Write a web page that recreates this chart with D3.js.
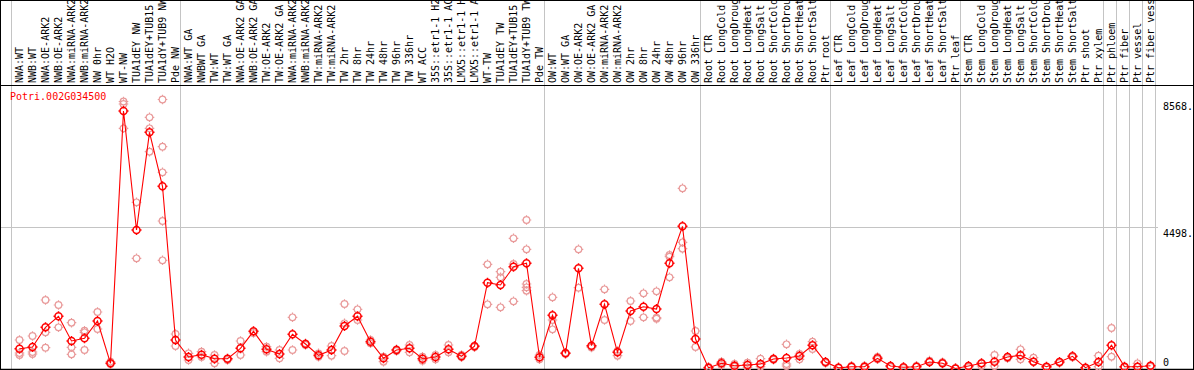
<!DOCTYPE html>
<html>
<head>
<meta charset="utf-8">
<script src="https://cdn.jsdelivr.net/npm/d3@7"></script>
<style>
  body { margin: 0; background: #fff; }
  svg { display: block; }
  text { font-family: "DejaVu Sans Mono", monospace; font-size: 10px; }
</style>
</head>
<body>
<svg width="1194" height="370"></svg>
<script>
const geneName = 'Potri.002G034500';

const categories = [
  'NWA:WT', 'NWB:WT', 'NWA:OE-ARK2', 'NWB:OE-ARK2', 'NWA:miRNA-ARK2', 'NWB:miRNA-ARK2', 'NW 0hr', 'WT H2O', 'WT-NW',
  'TUA1dEY NW', 'TUA1dEY+TUB15', 'TUA1dY+TUB9 NW', 'Pde NW',
  'NWA:WT GA', 'NWBWT GA', 'TW:WT', 'TW:WT GA', 'NWA:OE-ARK2 GA', 'NWB:OE-ARK2 GA', 'TW:OE-ARK2', 'TW:OE-ARK2 GA',
  'NWA:miRNA-ARK2', 'NWB:miRNA-ARK2', 'TW:miRNA-ARK2', 'TW:miRNA-ARK2', 'TW 2hr', 'TW 8hr', 'TW 24hr', 'TW 48hr',
  'TW 96hr', 'TW 336hr', 'WT ACC', '35S::etr1-1 H2', '35S::etr1-1 AC', 'LMX5::etr1-1 H', 'LMX5::etr1-1 A',
  'WT-TW', 'TUA1dEY TW', 'TUA1dEY+TUB15', 'TUA1dY+TUB9 TW', 'Pde TW',
  'OW:WT', 'OW:WT GA', 'OW:OE-ARK2', 'OW:OE-ARK2 GA', 'OW:miRNA-ARK2', 'OW:miRNA-ARK2', 'OW 2hr', 'OW 8hr',
  'OW 24hr', 'OW 48hr', 'OW 96hr', 'OW 336hr',
  'Root CTR', 'Root LongCold', 'Root LongDroug', 'Root LongHeat', 'Root LongSalt', 'Root ShortCold',
  'Root ShortDrou', 'Root ShortHeat', 'Root ShortSalt', 'Ptr root',
  'Leaf CTR', 'Leaf LongCold', 'Leaf LongDroug', 'Leaf LongHeat', 'Leaf LongSalt', 'Leaf ShortCold',
  'Leaf ShortDrou', 'Leaf ShortHeat', 'Leaf ShortSalt', 'Ptr leaf',
  'Stem CTR', 'Stem LongCold', 'Stem LongDroug', 'Stem LongHeat', 'Stem LongSalt', 'Stem ShortCold',
  'Stem ShortDrou', 'Stem ShortHeat', 'Stem ShortSalt', 'Ptr shoot', 'Ptr xylem',
  'Ptr phloem', 'Ptr fiber', 'Ptr vessel', 'Ptr fiber vess'
];

// first category of each group (vertical separators)
const groupStarts = [0, 13, 41, 53, 63, 73, 84, 85, 86, 87, 88];

const means = [
  631, 685, 1312, 1663, 876, 962, 1513, 166, 8201, 4411, 7523, 5803, 908,
  366, 440, 312, 312, 643, 1185, 612, 462, 1089, 780, 420, 589, 1354, 1663, 854, 325,
  589, 643, 312, 366, 612, 389, 707, 2733, 2659, 3242, 3351, 357,
  1694, 484, 3191, 726, 2045, 516, 1831, 1968, 1895, 3351, 4529, 940,
  20, 166, 89, 111, 143, 303, 334, 398, 739, 207,
  20, 57, 57, 325, 80, 38, 57, 207, 166, 0,
  80, 166, 217, 366, 420, 217, 57, 207, 389, 25, 207,
  739, 57, 57, 89
];

const replicates = [
  [908, 494, 430], [1035, 526, 462], [2182, 1153, 662], [2022, 1312], [1459, 675, 452], [1204, 1153, 589],
  [1800, 1258], [217, 143], [8504, 8424, 7650], [5293, 3510], [8001, 7650, 6905],
  [8568, 7064, 6249, 4698, 3446], [1099, 717],
  [484, 271], [535, 366], [430, 166], [312, 271], [876, 430], [1185, 1131], [694, 535], [589, 325],
  [1631, 589], [803, 748], [484, 376], [717, 408], [2054, 1440, 557], [1886, 1545], [908, 803], [217, 376],
  [612, 557], [748, 516], [248, 376], [430, 293], [748, 516], [366, 430], [726, 685],
  [3319, 2045], [3083, 2905, 1949], [4147, 3328, 2140], [4730, 3797, 2691, 2586, 2478], [430, 293],
  [2268, 1545, 1249], [503, 471], [3797, 2573], [694, 669], [2523, 1545], [408, 557], [2150, 1513],
  [2395, 1631], [2459, 1618, 1586], [3615, 3561, 2905], [5739, 4019, 3816], [1194, 685],
  [48, 16], [217, 111], [143, 57], [185, 38], [312, 57], [325, 280], [771, 80, 143], [293, 462], [854, 621], [207, 175],
  [38, 16], [80, 48], [80, 38], [293, 366], [80, 48], [38, 16], [57, 80], [207, 250], [166, 200], [10, 0],
  [80, 40], [166, 80], [430, 80], [366, 330], [612, 293], [217, 344], [57, 30], [207, 180], [389, 360], [25, 0],
  [408, 57], [1290, 376], [57, 30], [57, 166], [89, 60]
];

const yTicks = [8568, 4498, 0];
const yTickLabels = ['8568.', '4498.', '0'];

const svg = d3.select('svg');
const width = +svg.attr('width');
const height = +svg.attr('height');

const plotTop = 85;
const plotBottom = 369;

const x = d3.scaleBand()
  .domain(d3.range(categories.length))
  .range([13, 13 + 13 * categories.length]);
const cx = i => x(i) + x.bandwidth() / 2;

const y = d3.scaleLinear()
  .domain([0, 8568])
  .range([368.5, 99.5]);

const grey = '#c4c4c4';
const red = '#ff0000';
const pink = '#e99a9a';

// grid
svg.append('line')
  .attr('x1', 0).attr('x2', 1158)
  .attr('y1', Math.round(y(4498)) + 0.5).attr('y2', Math.round(y(4498)) + 0.5)
  .attr('stroke', grey);

svg.selectAll('.sep')
  .data(groupStarts)
  .join('line')
  .attr('class', 'sep')
  .attr('x1', d => x(0) + 13 * d - 2 + 0.5)
  .attr('x2', d => x(0) + 13 * d - 2 + 0.5)
  .attr('y1', 0).attr('y2', plotBottom)
  .attr('stroke', grey);

// frame
svg.append('rect')
  .attr('x', 0.5).attr('y', 0.5)
  .attr('width', width - 1).attr('height', plotBottom)
  .attr('fill', 'none').attr('stroke', '#000');
svg.append('line')
  .attr('x1', 0).attr('x2', width)
  .attr('y1', plotTop + 0.5).attr('y2', plotTop + 0.5)
  .attr('stroke', '#000');
svg.append('line')
  .attr('x1', 0).attr('x2', width)
  .attr('y1', plotBottom + 0.5).attr('y2', plotBottom + 0.5)
  .attr('stroke', '#000').attr('stroke-width', 1.5);

// category labels
svg.selectAll('.cat')
  .data(categories)
  .join('text')
  .attr('class', 'cat')
  .attr('transform', (d, i) => `translate(${cx(i) + 3.5}, 83) rotate(-90)`)
  .attr('fill', '#000')
  .text(d => d);

// y labels
svg.selectAll('.ylab')
  .data(yTicks)
  .join('text')
  .attr('class', 'ylab')
  .attr('x', 1163)
  .attr('y', d => Math.min(y(d) + 10, 366))
  .attr('fill', '#000')
  .text((d, i) => yTickLabels[i]);

// title
svg.append('text')
  .attr('x', 10).attr('y', 100)
  .attr('fill', red)
  .text(geneName);

function marker(r) {
  return `M${-r},0a${r},${r} 0 1,0 ${2 * r},0a${r},${r} 0 1,0 ${-2 * r},0` +
    `M0,${-r - 1.5}v1.5M0,${r}v1.5M${-r - 1.5},0h1.5M${r},0h1.5`;
}

// replicates
const repPoints = [];
replicates.forEach((arr, i) => arr.forEach(v => repPoints.push({i, v})));

svg.selectAll('.rep')
  .data(repPoints)
  .join('path')
  .attr('class', 'rep')
  .attr('transform', d => `translate(${cx(d.i)}, ${y(d.v)})`)
  .attr('d', marker(3.3))
  .attr('fill', 'none')
  .attr('stroke', pink)
  .attr('stroke-width', 1.2);

// mean line
const line = d3.line()
  .x((d, i) => cx(i))
  .y(d => y(d));

svg.append('path')
  .attr('d', line(means))
  .attr('fill', 'none')
  .attr('stroke', red)
  .attr('stroke-width', 1.1);

svg.selectAll('.mean')
  .data(means)
  .join('path')
  .attr('class', 'mean')
  .attr('transform', (d, i) => `translate(${cx(i)}, ${y(d)})`)
  .attr('d', marker(3.5))
  .attr('fill', 'none')
  .attr('stroke', red)
  .attr('stroke-width', 1.5);
</script>
</body>
</html>
